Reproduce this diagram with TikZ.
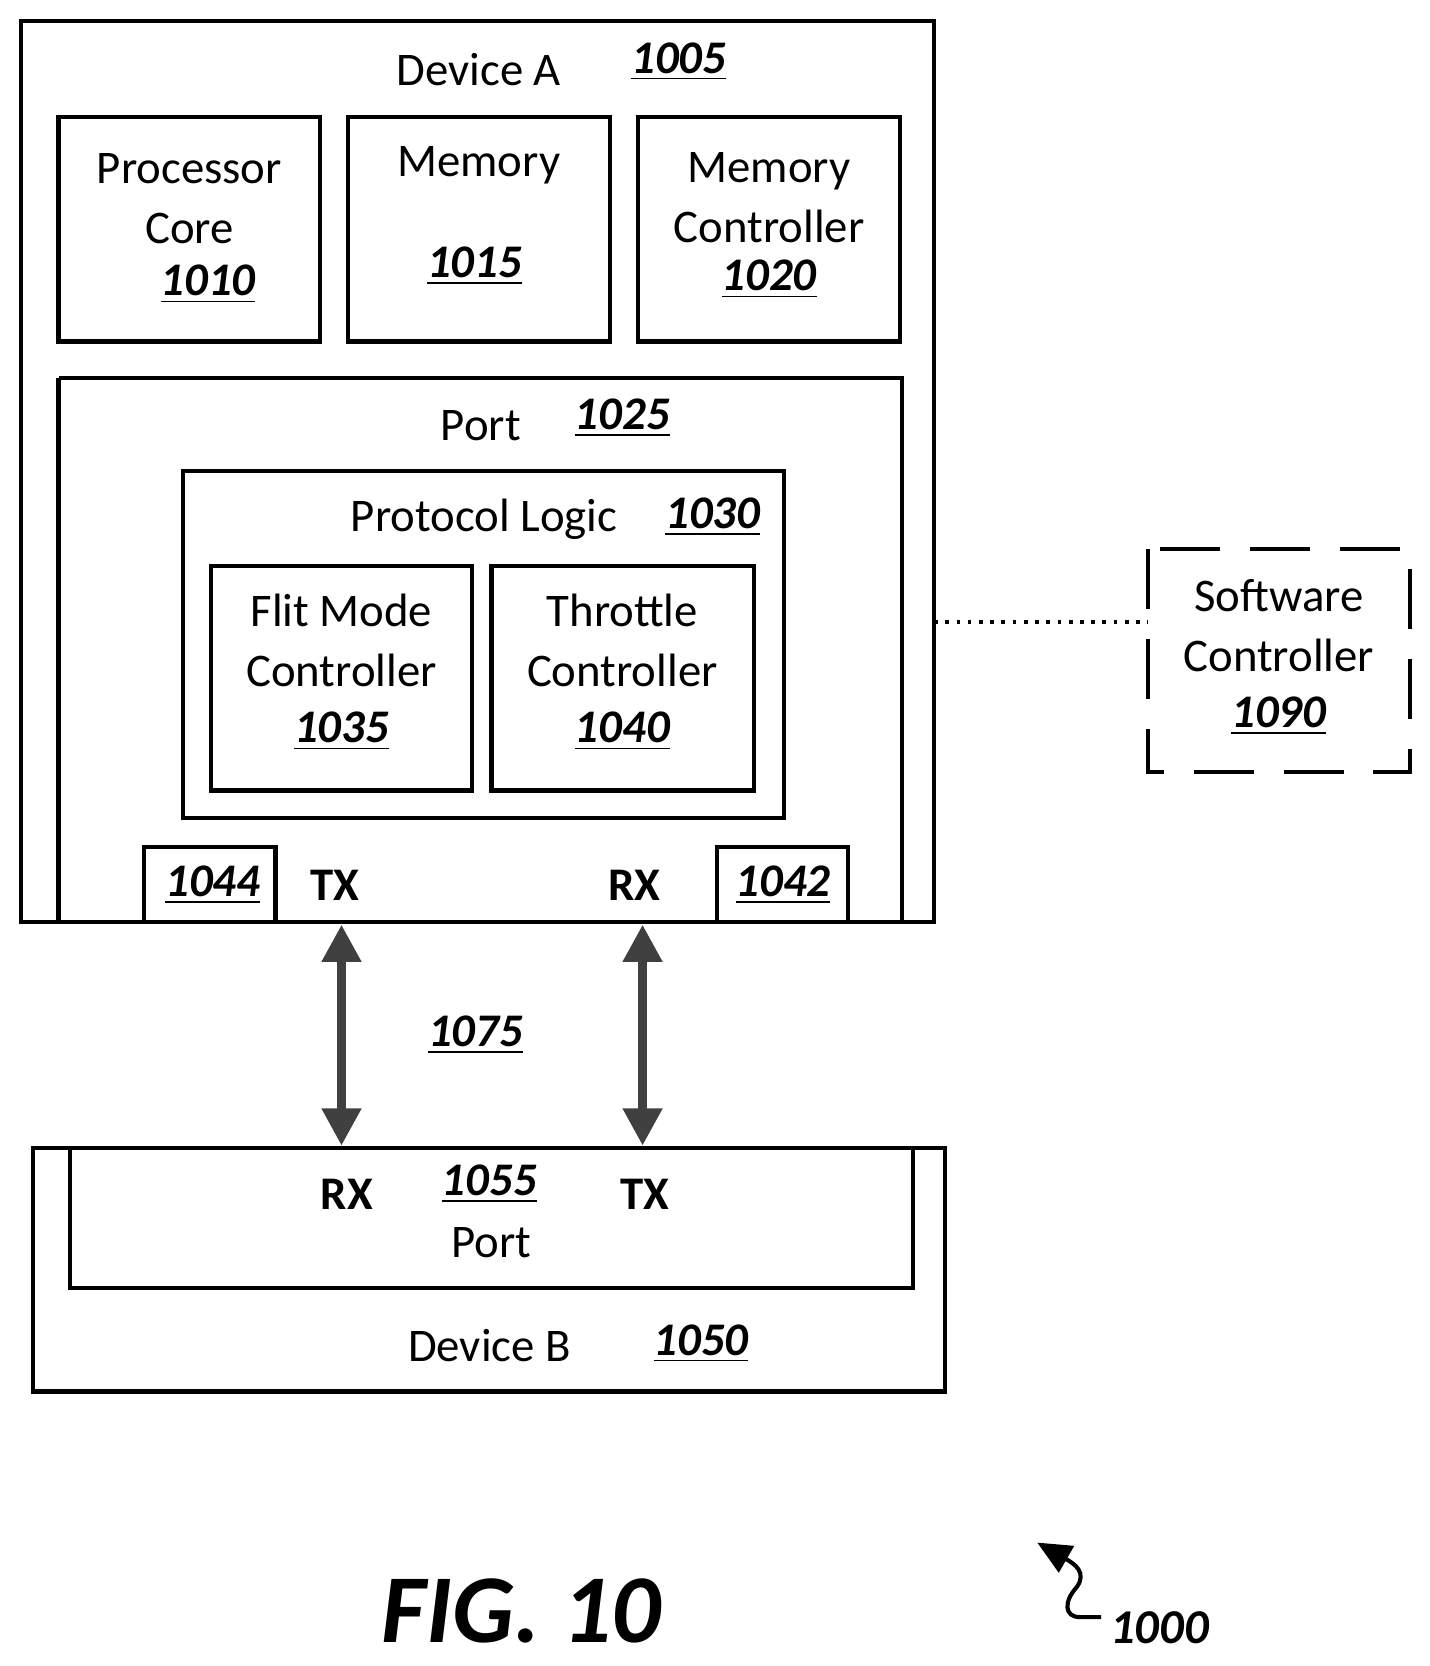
\documentclass[tikz,border=0pt]{standalone}
\usepackage{fontspec}
\setmainfont{Carlito}
\usetikzlibrary{arrows.meta}
\newcommand{\refn}[1]{\textbf{\textit{\underline{#1}}}}
\tikzset{
  blk/.style={draw,line width=1.1pt},
  txt/.style={font=\fontsize{12.5}{16}\selectfont,align=center,inner sep=0pt},
  link/.style={line width=2.6pt,black!75,{Triangle[length=10pt,width=10pt]}-{Triangle[length=10pt,width=10pt]}}
}
\begin{document}
\begin{tikzpicture}[x=0.01cm,y=-0.01cm]
\useasboundingbox (0,0) rectangle (1344,1566);
% device A
\draw[blk] (20,20) rectangle (878,867);
\node[txt] (devA) at (450,65) {Device A};
\node[txt] (devAn) at (638,58) {\refn{1005}};
\draw[blk] (55,110) rectangle (301,321);
\node[txt] (core) at (178,215) {Processor\\Core\\[-2pt]\hspace*{0.8em}\refn{1010}};
\draw[blk] (327,110) rectangle (573,321);
\node[txt] (mem) at (450,155) {Memory};
\node[txt] (memn) at (446,250) {\refn{1015}};
\draw[blk] (600,110) rectangle (846,321);
\node[txt] (mc) at (723,212) {Memory\\Controller\\[-3pt]\refn{1020}};
% port of device A
\draw[blk] (55,355) -- (55,867) (55,355) -- (848,355) -- (848,867);
\node[txt] (portA) at (452,400) {Port};
\node[txt] (portAn) at (585,393) {\refn{1025}};
\draw[blk] (172,443) rectangle (737,769);
\node[txt] (proto) at (455,488) {Protocol Logic};
\node[txt] (proton) at (670,486) {\refn{1030}};
\draw[blk] (198,532) rectangle (444,743);
\node[txt] (flit) at (321,632) {Flit Mode\\Controller\\[-1pt]\refn{1035}};
\draw[blk] (462,532) rectangle (709,743);
\node[txt] (thr) at (585,632) {Throttle\\Controller\\[-1pt]\refn{1040}};
\draw[blk] (135,867) -- (135,796) -- (259,796) -- (259,867);
\node[txt] (n1044) at (200,832) {\refn{1044}};
\node[txt,font=\fontsize{12.5}{15}\selectfont\bfseries] (txA) at (315,832) {TX};
\node[txt,font=\fontsize{12.5}{15}\selectfont\bfseries] (rxA) at (596,832) {RX};
\draw[blk] (674,867) -- (674,796) -- (797,796) -- (797,867);
\node[txt] (n1042) at (736,832) {\refn{1042}};
% links
\coordinate (a1) at (321,869);
\coordinate (b1) at (321,1077);
\coordinate (a2) at (604,869);
\coordinate (b2) at (604,1077);
\draw[link] (a1) -- (b1);
\draw[link] (a2) -- (b2);
\node[txt] (link) at (447,973) {\refn{1075}};
% device B
\draw[blk] (31,1079) rectangle (888,1308);
\draw[blk] (66,1079) rectangle (858,1211);
\node[txt,font=\fontsize{12.5}{15}\selectfont\bfseries] (rxB) at (326,1123) {RX};
\node[txt] (portBn) at (460,1113) {\refn{1055}};
\node[txt,font=\fontsize{12.5}{15}\selectfont\bfseries] (txB) at (606,1123) {TX};
\node[txt] (portB) at (462,1168) {Port};
\node[txt] (devB) at (460,1265) {Device B};
\node[txt] (devBn) at (659,1263) {\refn{1050}};
% software controller
\draw[line width=1.1pt,dash pattern=on 16pt off 8pt] (1079,516) rectangle (1325,726);
\node[txt] (sw) at (1202,618) {Software\\Controller\\[-1pt]\refn{1090}};
\coordinate (sA) at (878,585);
\coordinate (sB) at (1079,585);
\draw[line width=1pt,dotted] (sA) -- (sB);
% figure label
\node[txt,font=\fontsize{26}{30}\selectfont\bfseries\itshape] (fig) at (490,1514) {FIG. 10};
\node[txt,font=\fontsize{13}{15}\selectfont\bfseries\itshape] (ref) at (1090,1530) {1000};
\coordinate (t) at (975,1450);
\draw[line width=1.1pt,-{Triangle[length=9pt,width=8pt]}] (1035,1520) -- (1015,1520) .. controls (1000,1520) and (1000,1505) .. (1012,1492) .. controls (1022,1478) and (1010,1470) .. (t);
\end{tikzpicture}
\end{document}
